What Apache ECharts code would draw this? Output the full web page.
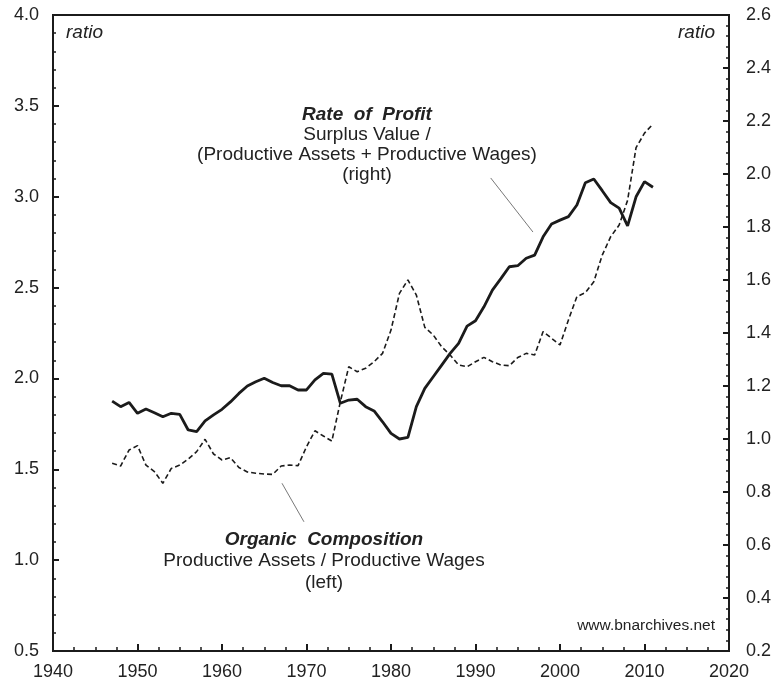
<!DOCTYPE html>
<html>
<head>
<meta charset="utf-8">
<script src="https://cdn.jsdelivr.net/npm/echarts@6/dist/echarts.min.js"></script>
<style>html,body{margin:0;padding:0;background:#fff}#c{width:777px;height:687px}</style>
</head>
<body>
<div id="c"></div>
<script>
const years = [];
for (let y = 1947; y <= 2011; y++) years.push(y);

// Organic Composition (left axis)
const organicComposition = [
  1.533, 1.518, 1.606, 1.630, 1.523, 1.487, 1.423, 1.505, 1.523, 1.556,
  1.597, 1.665, 1.584, 1.551, 1.564, 1.510, 1.485, 1.478, 1.474, 1.472,
  1.518, 1.523, 1.520, 1.624, 1.712, 1.683, 1.655, 1.870, 2.064, 2.037,
  2.056, 2.092, 2.138, 2.266, 2.468, 2.542, 2.459, 2.281, 2.239, 2.174,
  2.129, 2.074, 2.064, 2.092, 2.116, 2.092, 2.074, 2.070, 2.115, 2.138,
  2.129, 2.258, 2.221, 2.184, 2.322, 2.450, 2.472, 2.532, 2.679, 2.780,
  2.844, 2.980, 3.270, 3.350, 3.400
];

// Rate of Profit (right axis)
const rateOfProfit = [
  1.143, 1.122, 1.138, 1.097, 1.113, 1.099, 1.084, 1.097, 1.093, 1.034,
  1.028, 1.068, 1.091, 1.112, 1.140, 1.172, 1.200, 1.216, 1.229, 1.213,
  1.201, 1.201, 1.185, 1.185, 1.223, 1.248, 1.245, 1.135, 1.147, 1.150,
  1.122, 1.106, 1.065, 1.021, 1.000, 1.006, 1.122, 1.191, 1.235, 1.279,
  1.323, 1.361, 1.426, 1.446, 1.499, 1.562, 1.605, 1.650, 1.654, 1.682,
  1.694, 1.763, 1.811, 1.826, 1.839, 1.883, 1.967, 1.981, 1.937, 1.892,
  1.871, 1.804, 1.914, 1.971, 1.950
];

const xTicks = [1940, 1950, 1960, 1970, 1980, 1990, 2000, 2010, 2020];
const leftTicks = [0.5, 1.0, 1.5, 2.0, 2.5, 3.0, 3.5, 4.0];
const rightTicks = [0.2, 0.4, 0.6, 0.8, 1.0, 1.2, 1.4, 1.6, 1.8, 2.0, 2.2, 2.4, 2.6];

const FONT = '"Liberation Sans", Arial, Helvetica, sans-serif';
const INK = '#1b1b1b';
const TXT = '#222';

const chart = echarts.init(document.getElementById('c'), null, {renderer: 'canvas'});

const axisCommon = {
  axisLine: {show: true, onZero: false, lineStyle: {color: INK, width: 2}},
  axisTick: {show: true, inside: true, length: 6, lineStyle: {color: INK, width: 2}},
  minorTick: {show: true, splitNumber: 5, length: 3, lineStyle: {color: INK, width: 1.5}},
  splitLine: {show: false}
};

chart.setOption({
  animation: false,
  backgroundColor: '#fff',
  grid: {left: 53, right: 48, top: 15, bottom: 36, show: true, borderColor: INK, borderWidth: 2, backgroundColor: 'transparent'},
  xAxis: Object.assign({}, axisCommon, {
    type: 'value', min: xTicks[0], max: xTicks[xTicks.length - 1], interval: 10,
    minorTick: {show: true, splitNumber: 4, length: 4, lineStyle: {color: INK, width: 1.5}},
    axisTick: {show: true, inside: true, length: 7, lineStyle: {color: INK, width: 2}},
    axisLabel: {color: TXT, fontSize: 18, fontFamily: FONT, margin: 12, formatter: v => String(v)}
  }),
  yAxis: [
    Object.assign({}, axisCommon, {
      type: 'value', position: 'left', min: leftTicks[0], max: leftTicks[leftTicks.length - 1], interval: 0.5,
      axisLabel: {color: TXT, fontSize: 18, fontFamily: FONT, margin: 14, formatter: v => v.toFixed(1)}
    }),
    Object.assign({}, axisCommon, {
      type: 'value', position: 'right', min: rightTicks[0], max: rightTicks[rightTicks.length - 1], interval: 0.2,
      axisLabel: {color: TXT, fontSize: 18, fontFamily: FONT, margin: 17, formatter: v => v.toFixed(1)}
    })
  ],
  series: [
    {
      name: 'Organic Composition', type: 'line', yAxisIndex: 0, symbol: 'none', smooth: false,
      lineStyle: {color: INK, width: 1.6, type: [5, 3]},
      data: years.map((y, i) => [y, organicComposition[i]]),
      markLine: {
        silent: true, symbol: 'none', label: {show: false},
        lineStyle: {color: '#555', width: 0.8, type: 'solid'},
        data: [[{coord: [1967.1, 1.423]}, {coord: [1969.7, 1.211]}]]
      }
    },
    {
      name: 'Rate of Profit', type: 'line', yAxisIndex: 1, symbol: 'none', smooth: false,
      lineStyle: {color: INK, width: 2.8},
      data: years.map((y, i) => [y, rateOfProfit[i]]),
      markLine: {
        silent: true, symbol: 'none', label: {show: false},
        lineStyle: {color: '#555', width: 0.8, type: 'solid'},
        data: [[{coord: [1991.8, 1.985]}, {coord: [1996.8, 1.781]}]]
      }
    }
  ],
  graphic: [
    {type: 'text', left: 66, top: 23, style: {text: 'ratio', font: 'italic 19px ' + FONT, fill: TXT}},
    {type: 'text', right: 62, top: 23, style: {text: 'ratio', font: 'italic 19px ' + FONT, fill: TXT}},
    {type: 'text', x: 367, y: 115, style: {text: 'Rate  of  Profit', font: 'italic bold 19px ' + FONT, fill: TXT, align: 'center', verticalAlign: 'middle'}},
    {type: 'text', x: 367, y: 135, style: {text: 'Surplus Value /', font: '19px ' + FONT, fill: TXT, align: 'center', verticalAlign: 'middle'}},
    {type: 'text', x: 367, y: 155, style: {text: '(Productive Assets + Productive Wages)', font: '19px ' + FONT, fill: TXT, align: 'center', verticalAlign: 'middle'}},
    {type: 'text', x: 367, y: 175, style: {text: '(right)', font: '19px ' + FONT, fill: TXT, align: 'center', verticalAlign: 'middle'}},
    {type: 'text', x: 324, y: 540, style: {text: 'Organic  Composition', font: 'italic bold 19px ' + FONT, fill: TXT, align: 'center', verticalAlign: 'middle'}},
    {type: 'text', x: 324, y: 561, style: {text: 'Productive Assets / Productive Wages', font: '19px ' + FONT, fill: TXT, align: 'center', verticalAlign: 'middle'}},
    {type: 'text', x: 324, y: 583, style: {text: '(left)', font: '19px ' + FONT, fill: TXT, align: 'center', verticalAlign: 'middle'}},
    {type: 'text', x: 715, y: 626, style: {text: 'www.bnarchives.net', font: '15.5px ' + FONT, fill: TXT, align: 'right', verticalAlign: 'middle'}}
  ]
});
</script>
</body>
</html>
